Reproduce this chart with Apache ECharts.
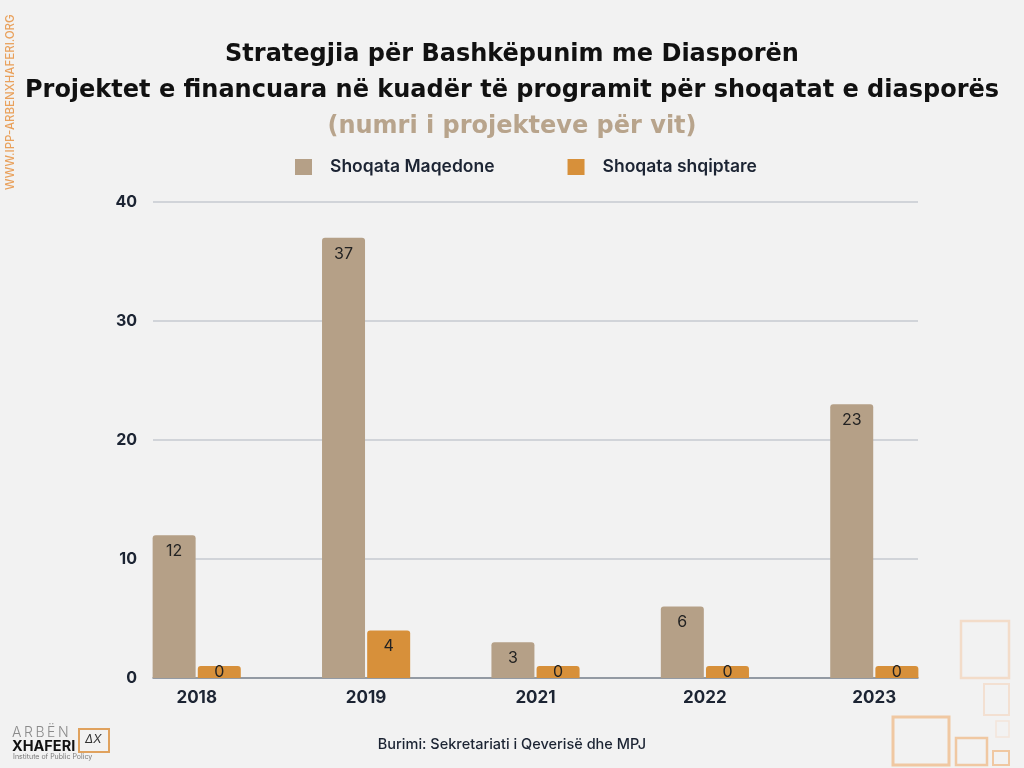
<!DOCTYPE html>
<html>
<head>
<meta charset="utf-8">
<script src="https://cdn.jsdelivr.net/npm/echarts@6/dist/echarts.min.js"></script>
<style>
html,body{margin:0;padding:0;background:#f2f2f2;}
#chart{width:1024px;height:768px;}
</style>
</head>
<body>
<div id="chart"></div>
<script>
const categories = ['2018', '2019', '2021', '2022', '2023'];
const seriesNames = ['Shoqata Maqedone', 'Shoqata shqiptare'];
const maqedone = [12, 37, 3, 6, 23];
const shqiptare = [0, 4, 0, 0, 0];
const yTicks = { min: 0, max: 40, interval: 10 };
const titleLines = [
  'Strategjia për Bashkëpunim me Diasporën',
  'Projektet e financuara në kuadër të programit për shoqatat e diasporës',
  '(numri i projekteve për vit)'
];
const sourceText = 'Burimi: Sekretariati i Qeverisë dhe MPJ';
const watermark = 'WWW.IPP-ARBENXHAFERI.ORG';

const FONT = 'Inter, "Noto Sans", sans-serif';
const WIDE = '"DejaVu Sans", Inter, sans-serif';
const DARK = '#1c2433';
const colors = ['#b5a087', '#d7903a'];

function toData(arr) {
  return arr.map(v => v === 0 ? { value: v, label: { position: 'inside', distance: 0 } } : v);
}

const chart = echarts.init(document.getElementById('chart'));
const barLabel = { show: true, position: 'insideTop', distance: 8, color: '#222', fontSize: 16, fontFamily: FONT };

chart.setOption({
  backgroundColor: '#f2f2f2',
  animation: false,
  title: [
    { text: titleLines[0], left: 'center', top: 38, textStyle: { fontFamily: WIDE, fontWeight: 700, fontSize: 24, color: '#111' } },
    { text: titleLines[1], left: 'center', top: 74, textStyle: { fontFamily: WIDE, fontWeight: 700, fontSize: 24, color: '#111' } },
    { text: titleLines[2], left: 'center', top: 110, textStyle: { fontFamily: WIDE, fontWeight: 700, fontSize: 24, color: '#b8a48c' } }
  ],
  legend: {
    data: seriesNames,
    top: 153,
    left: 290,
    itemWidth: 17,
    itemHeight: 16,
    itemGap: 73,
    icon: 'rect',
    textStyle: { fontFamily: FONT, fontSize: 17.5, fontWeight: 600, color: DARK, padding: [0, 0, 0, 13] }
  },
  grid: [
    { left: 112, right: 65, top: 202, bottom: 90 },
    { left: 153, right: 106, top: 202, bottom: 90 }
  ],
  xAxis: [
    {
      type: 'category', gridIndex: 0, data: categories,
      axisLine: { show: false }, axisTick: { show: false },
      axisLabel: { margin: 11, fontFamily: FONT, fontWeight: 700, fontSize: 17, color: DARK }
    },
    {
      type: 'value', gridIndex: 1, min: 0, max: 1,
      axisLine: { show: true, lineStyle: { color: '#7f8791', width: 1.5 } },
      axisTick: { show: false }, axisLabel: { show: false }, splitLine: { show: false }
    }
  ],
  yAxis: [
    { type: 'value', gridIndex: 0, min: yTicks.min, max: yTicks.max, interval: yTicks.interval, show: false, splitLine: { show: false } },
    {
      type: 'value', gridIndex: 1, min: yTicks.min, max: yTicks.max, interval: yTicks.interval,
      axisLine: { show: false }, axisTick: { show: false },
      axisLabel: { margin: 16, fontFamily: FONT, fontWeight: 700, fontSize: 16, color: DARK },
      splitLine: { show: true, lineStyle: { color: '#c6cad0', width: 1.5 } }
    }
  ],
  series: [
    {
      name: seriesNames[0], type: 'bar', xAxisIndex: 0, yAxisIndex: 0,
      data: toData(maqedone), barWidth: 43, barGap: '5%', barMinHeight: 12,
      itemStyle: { color: colors[0], borderRadius: [3, 3, 0, 0] },
      label: barLabel
    },
    {
      name: seriesNames[1], type: 'bar', xAxisIndex: 0, yAxisIndex: 0,
      data: toData(shqiptare), barWidth: 43, barGap: '5%', barMinHeight: 12,
      itemStyle: { color: colors[1], borderRadius: [3, 3, 0, 0] },
      label: barLabel
    }
  ],
  graphic: [
    { type: 'text', left: 'center', top: 737, style: { text: sourceText, font: '500 14.5px ' + FONT, fill: DARK } },
    { type: 'text', x: 5, y: 190, rotation: Math.PI / 2, style: { text: watermark, font: '500 11.5px ' + FONT, fill: '#e9a15c' } },
    // logo
    { type: 'text', x: 12, y: 726, style: { text: 'A\u2009R\u2009B\u2009Ë\u2009N', font: '300 14px ' + FONT, fill: '#8a8a8a' } },
    { type: 'text', x: 12, y: 739, style: { text: 'XHAFERI', font: '700 14.5px ' + FONT, fill: '#111' } },
    { type: 'text', x: 13, y: 753, style: { text: 'Institute of Public Policy', font: '400 7px ' + FONT, fill: '#777' } },
    { type: 'rect', shape: { x: 79, y: 729, width: 30, height: 23 }, style: { fill: 'none', stroke: '#e0a25e', lineWidth: 2 } },
    { type: 'text', x: 85, y: 733, style: { text: 'ΔX', font: 'italic 12px ' + FONT, fill: '#333' } },
    // decorative squares
    { type: 'rect', shape: { x: 961, y: 621, width: 48, height: 57 }, style: { fill: 'none', stroke: '#f3dcc9', lineWidth: 2.5 } },
    { type: 'rect', shape: { x: 984, y: 684, width: 25, height: 31 }, style: { fill: 'none', stroke: '#f3e0d2', lineWidth: 2 } },
    { type: 'rect', shape: { x: 996, y: 721, width: 13, height: 16 }, style: { fill: 'none', stroke: '#f4e5da', lineWidth: 1.5 } },
    { type: 'rect', shape: { x: 893, y: 717, width: 56, height: 48 }, style: { fill: 'none', stroke: '#f0c8a2', lineWidth: 3 } },
    { type: 'rect', shape: { x: 956, y: 738, width: 31, height: 27 }, style: { fill: 'none', stroke: '#f0c8a2', lineWidth: 2.5 } },
    { type: 'rect', shape: { x: 993, y: 751, width: 16, height: 14 }, style: { fill: 'none', stroke: '#f0c8a2', lineWidth: 2 } }
  ]
});
</script>
</body>
</html>
